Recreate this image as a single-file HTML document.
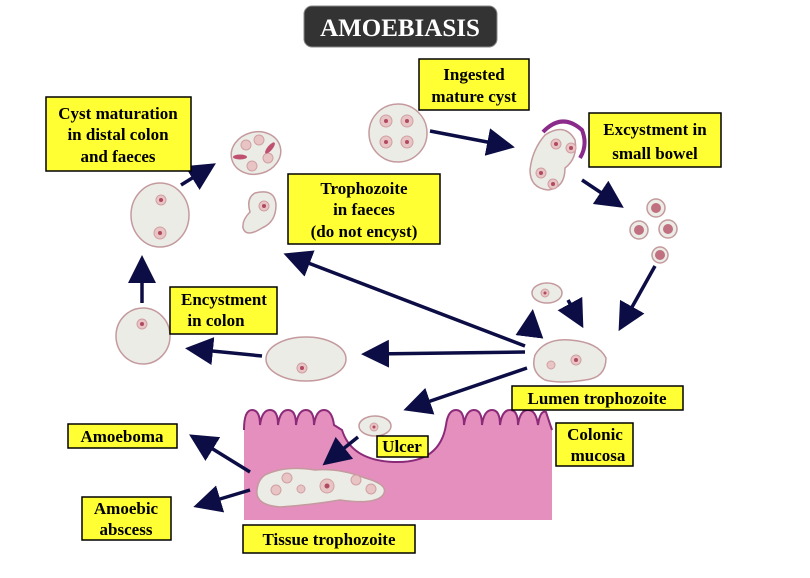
<!DOCTYPE html>
<html><head><style>
html,body{margin:0;padding:0;background:#fff;}
svg{display:block;}
text{font-family:"Liberation Serif",serif;font-weight:bold;font-size:17px;fill:#000;}
.lb{fill:#ffff33;stroke:#000;stroke-width:1.5;}
.cell{fill:#ecece6;stroke:#c49a9e;stroke-width:1.5;}
.nuc{fill:#e8c4c4;stroke:#d0a0a4;stroke-width:1;}
.dot{fill:#b04a62;}
.ar{stroke:#0d0d45;stroke-width:3.5;fill:none;marker-end:url(#h);}
</style></head><body>
<svg width="810" height="578" viewBox="0 0 810 578" xmlns="http://www.w3.org/2000/svg">
<defs>
<marker id="h" markerWidth="8" markerHeight="8" refX="6" refY="4" orient="auto" markerUnits="strokeWidth">
<path d="M0,0 L8,4 L0,8 Z" fill="#0d0d45"/></marker>
</defs>
<rect x="304" y="6" width="193" height="41" rx="8" fill="#333" stroke="#888"/>
<text x="400" y="36" text-anchor="middle" style="font-size:25px;fill:#fff">AMOEBIASIS</text>

<path d="M244,430 Q244,410 252,410 Q260,410 260,425 Q262,410 270,410 Q278,410 278,425 Q280,410 288,410 Q296,410 296,425 Q298,410 306,410 Q314,410 314,425 Q316,410 324,410 Q332,410 334,425 L342,430 Q352,462 398,462 Q440,462 446,425 Q448,410 456,410 Q464,410 464,425 Q466,410 474,410 Q482,410 482,425 Q484,410 492,410 Q500,410 500,425 Q502,410 510,410 Q518,410 518,425 Q520,410 528,410 Q536,410 538,425 Q540,410 546,412 L552,430 L552,520 L244,520 Z" fill="#e48fbe"/>
<path d="M244,430 Q244,410 252,410 Q260,410 260,425 Q262,410 270,410 Q278,410 278,425 Q280,410 288,410 Q296,410 296,425 Q298,410 306,410 Q314,410 314,425 Q316,410 324,410 Q332,410 334,425 L342,430 Q352,462 398,462 Q440,462 446,425 Q448,410 456,410 Q464,410 464,425 Q466,410 474,410 Q482,410 482,425 Q484,410 492,410 Q500,410 500,425 Q502,410 510,410 Q518,410 518,425 Q520,410 528,410 Q536,410 538,425 Q540,410 546,412 L552,430" fill="none" stroke="#8a2a78" stroke-width="2"/>

<circle class="cell" cx="398" cy="133" r="29"/>
<circle class="nuc" cx="386" cy="121" r="6"/><circle class="dot" cx="386" cy="121" r="2"/>
<circle class="nuc" cx="407" cy="121" r="6"/><circle class="dot" cx="407" cy="121" r="2"/>
<circle class="nuc" cx="386" cy="142" r="6"/><circle class="dot" cx="386" cy="142" r="2"/>
<circle class="nuc" cx="407" cy="142" r="6"/><circle class="dot" cx="407" cy="142" r="2"/>

<path class="cell" d="M545,135 Q565,122 575,140 Q578,158 565,168 Q565,188 548,190 Q530,188 530,170 Q532,150 545,135 Z"/>
<path d="M543,132 Q562,112 582,130 Q588,145 580,158" fill="none" stroke="#8a2a8a" stroke-width="4"/>
<circle class="nuc" cx="556" cy="144" r="5"/><circle class="dot" cx="556" cy="144" r="2"/>
<circle class="nuc" cx="571" cy="148" r="5"/><circle class="dot" cx="571" cy="148" r="2"/>
<circle class="nuc" cx="541" cy="173" r="5"/><circle class="dot" cx="541" cy="173" r="2"/>
<circle class="nuc" cx="553" cy="184" r="5"/><circle class="dot" cx="553" cy="184" r="2"/>

<g>
<circle class="cell" cx="656" cy="208" r="9"/><circle class="dot" cx="656" cy="208" r="5" style="fill:#c07080"/>
<circle class="cell" cx="639" cy="230" r="9"/><circle class="dot" cx="639" cy="230" r="5" style="fill:#c07080"/>
<circle class="cell" cx="668" cy="229" r="9"/><circle class="dot" cx="668" cy="229" r="5" style="fill:#c07080"/>
<circle class="cell" cx="660" cy="255" r="8"/><circle class="dot" cx="660" cy="255" r="5" style="fill:#c07080"/>
</g>

<path class="cell" d="M535,355 Q545,338 570,340 Q598,342 606,358 Q606,378 585,380 Q560,384 545,380 Q530,372 535,355 Z"/>
<circle class="nuc" cx="576" cy="360" r="5"/><circle class="dot" cx="576" cy="360" r="2"/>
<circle class="nuc" cx="551" cy="365" r="4"/>
<ellipse class="cell" cx="547" cy="293" rx="15" ry="10"/>
<circle class="nuc" cx="545" cy="293" r="4"/><circle class="dot" cx="545" cy="293" r="1.5"/>

<ellipse class="cell" cx="306" cy="359" rx="40" ry="22"/>
<circle class="nuc" cx="302" cy="368" r="5"/><circle class="dot" cx="302" cy="368" r="2"/>
<ellipse class="cell" cx="143" cy="336" rx="27" ry="28"/>
<circle class="nuc" cx="142" cy="324" r="5"/><circle class="dot" cx="142" cy="324" r="2"/>
<ellipse class="cell" cx="160" cy="215" rx="29" ry="32"/>
<circle class="nuc" cx="161" cy="200" r="5"/><circle class="dot" cx="161" cy="200" r="2"/>
<circle class="nuc" cx="160" cy="233" r="6"/><circle class="dot" cx="160" cy="233" r="2"/>
<ellipse class="cell" cx="256" cy="153" rx="25" ry="21" transform="rotate(-15 256 153)"/>
<circle class="nuc" cx="246" cy="145" r="5"/><circle class="nuc" cx="259" cy="140" r="5"/>
<circle class="nuc" cx="268" cy="158" r="5"/><circle class="nuc" cx="252" cy="166" r="5"/>
<ellipse cx="240" cy="157" rx="7" ry="2.5" fill="#c05070"/>
<ellipse cx="270" cy="148" rx="7" ry="2.5" fill="#c05070" transform="rotate(-50 270 148)"/>
<path class="cell" d="M255,193 Q275,188 276,205 Q276,222 262,228 Q246,238 243,228 Q242,220 250,212 Q246,198 255,193 Z"/>
<circle class="nuc" cx="264" cy="206" r="5"/><circle class="dot" cx="264" cy="206" r="2"/>

<ellipse class="cell" cx="375" cy="426" rx="16" ry="10"/>
<circle class="nuc" cx="374" cy="427" r="4"/><circle class="dot" cx="374" cy="427" r="1.5"/>

<path class="cell" d="M265,475 Q285,465 315,470 Q340,468 365,478 Q390,485 383,495 Q375,505 340,500 Q310,505 280,507 Q255,505 257,490 Q258,480 265,475 Z"/>
<circle class="nuc" cx="287" cy="478" r="5"/><circle class="nuc" cx="276" cy="490" r="5"/>
<circle class="nuc" cx="301" cy="489" r="4"/><circle class="nuc" cx="327" cy="486" r="7"/><circle class="dot" cx="327" cy="486" r="2.5"/>
<circle class="nuc" cx="356" cy="480" r="5"/><circle class="nuc" cx="371" cy="489" r="5"/>

<line class="ar" x1="430" y1="131" x2="508" y2="146"/>
<line class="ar" x1="582" y1="180" x2="618" y2="204"/>
<line class="ar" x1="655" y1="266" x2="622" y2="325"/>
<line class="ar" x1="525" y1="346" x2="290" y2="256"/>
<line class="ar" x1="525" y1="352" x2="368" y2="354"/>
<line class="ar" x1="262" y1="356" x2="192" y2="349"/>
<line class="ar" x1="142" y1="303" x2="142" y2="262"/>
<line class="ar" x1="181" y1="185" x2="210" y2="167"/>
<line class="ar" x1="530" y1="332" x2="532" y2="316"/>
<line class="ar" x1="568" y1="300" x2="580" y2="322"/>
<line class="ar" x1="527" y1="368" x2="410" y2="408"/>
<line class="ar" x1="358" y1="437" x2="328" y2="461"/>
<line class="ar" x1="250" y1="472" x2="195" y2="438"/>
<line class="ar" x1="250" y1="490" x2="200" y2="505"/>

<rect class="lb" x="46" y="97" width="145" height="74"/>
<text x="118" y="119" text-anchor="middle">Cyst maturation</text>
<text x="118" y="140" text-anchor="middle">in distal colon</text>
<text x="118" y="162" text-anchor="middle">and faeces</text>
<rect class="lb" x="419" y="59" width="110" height="51"/>
<text x="474" y="80" text-anchor="middle">Ingested</text>
<text x="474" y="102" text-anchor="middle">mature cyst</text>
<rect class="lb" x="589" y="113" width="132" height="54"/>
<text x="655" y="135" text-anchor="middle">Excystment in</text>
<text x="655" y="159" text-anchor="middle">small bowel</text>
<rect class="lb" x="288" y="174" width="152" height="70"/>
<text x="364" y="194" text-anchor="middle">Trophozoite</text>
<text x="364" y="215" text-anchor="middle">in faeces</text>
<text x="364" y="237" text-anchor="middle">(do not encyst)</text>
<rect class="lb" x="170" y="287" width="107" height="47"/>
<text x="224" y="305" text-anchor="middle">Encystment</text>
<text x="216" y="326" text-anchor="middle">in colon</text>
<rect class="lb" x="512" y="386" width="171" height="24"/>
<text x="597" y="404" text-anchor="middle">Lumen trophozoite</text>
<rect class="lb" x="68" y="424" width="109" height="24"/>
<text x="122" y="442" text-anchor="middle">Amoeboma</text>
<rect class="lb" x="556" y="423" width="77" height="43"/>
<text x="595" y="440" text-anchor="middle">Colonic</text>
<text x="598" y="461" text-anchor="middle">mucosa</text>
<rect class="lb" x="377" y="436" width="51" height="21"/>
<text x="402" y="452" text-anchor="middle">Ulcer</text>
<rect class="lb" x="82" y="497" width="89" height="43"/>
<text x="126" y="514" text-anchor="middle">Amoebic</text>
<text x="126" y="535" text-anchor="middle">abscess</text>
<rect class="lb" x="243" y="525" width="172" height="28"/>
<text x="329" y="545" text-anchor="middle">Tissue trophozoite</text>
</svg>
</body></html>
